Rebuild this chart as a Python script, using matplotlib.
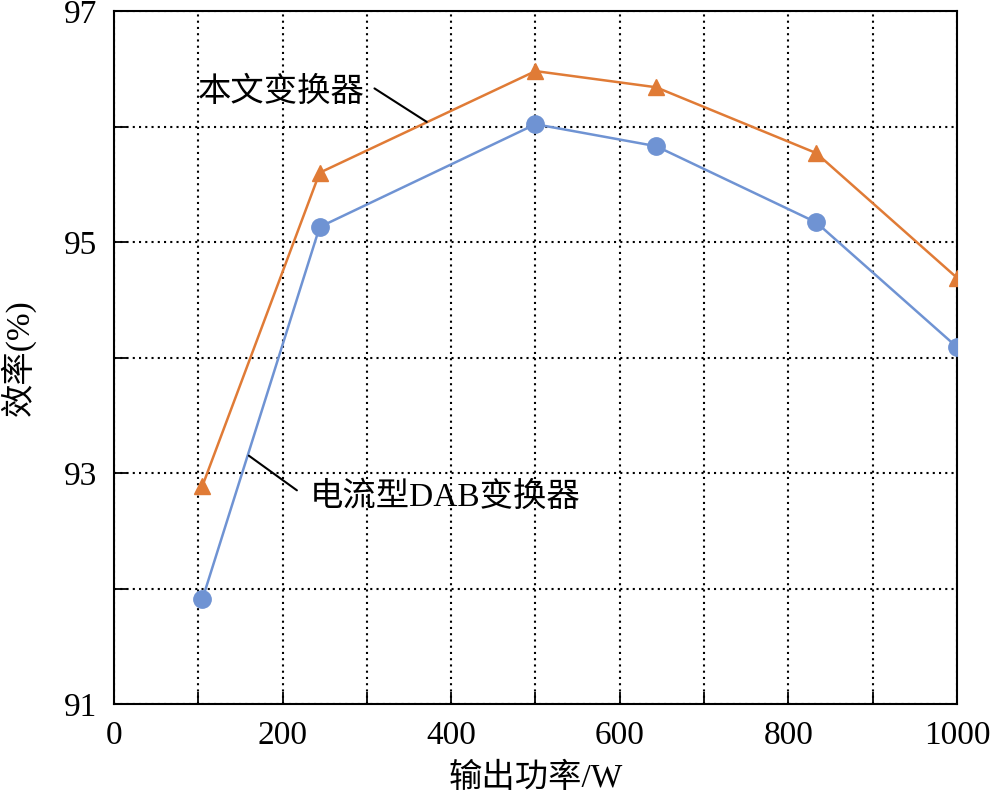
import matplotlib
matplotlib.use("Agg")
import matplotlib.pyplot as plt
from matplotlib.ticker import MultipleLocator, FixedLocator

plt.rcParams['font.family'] = ['Liberation Serif', 'Noto Sans CJK SC', 'DejaVu Sans']

power = [105, 244, 500, 643, 833, 1000]
eff_proposed = [92.89, 95.60, 96.48, 96.34, 95.77, 94.69]
eff_dab = [91.91, 95.13, 96.02, 95.83, 95.17, 94.09]
y_ticks_labelled = [91, 93, 95, 97]
label_proposed = "本文变换器"
label_dab = "电流型DAB变换器"
xlabel = "输出功率/W"
ylabel = "效率(%)"

orange = "#E07B36"
blue = "#6F93D3"

fig = plt.figure(figsize=(9.91, 7.99), dpi=100)
ax = fig.add_axes([0.115, 0.1189, 0.8507, 0.8673])

ax.plot(power, eff_proposed, color=orange, lw=1.8, marker='^', ms=12, zorder=3)
ax.plot(power, eff_dab, color=blue, lw=1.8, marker='o', ms=12.5, zorder=3)

ax.set_xlim(0, 1000)
ax.set_ylim(91, 97)
ax.xaxis.set_major_locator(MultipleLocator(200))
ax.xaxis.set_minor_locator(MultipleLocator(100))
ax.yaxis.set_major_locator(FixedLocator(y_ticks_labelled))
ax.yaxis.set_minor_locator(MultipleLocator(1))

ax.grid(True, which='both', color='black', linestyle=(0, (1.0, 2.0)), lw=1.5)
ax.set_axisbelow(True)

ax.tick_params(which='both', direction='in', length=9, width=1.3, labelsize=24, pad=12)
for s in ax.spines.values():
    s.set_linewidth(1.5)

ax.set_xlabel(xlabel, fontsize=24, labelpad=8)
ax.set_ylabel(ylabel, fontsize=24, labelpad=20)

# leader lines
ax.annotate('', xy=(371, 96.04), xytext=(309, 96.33),
            arrowprops=dict(arrowstyle='-', color='black', lw=1.5, shrinkA=0, shrinkB=0))
ax.annotate('', xy=(160, 93.15), xytext=(217, 92.85),
            arrowprops=dict(arrowstyle='-', color='black', lw=1.5, shrinkA=0, shrinkB=0))
ax.text(297, 96.30, label_proposed, fontsize=24, ha='right', va='center')
ax.text(232, 92.79, label_dab, fontsize=24, ha='left', va='center')

fig.savefig("out.png", dpi=100)
